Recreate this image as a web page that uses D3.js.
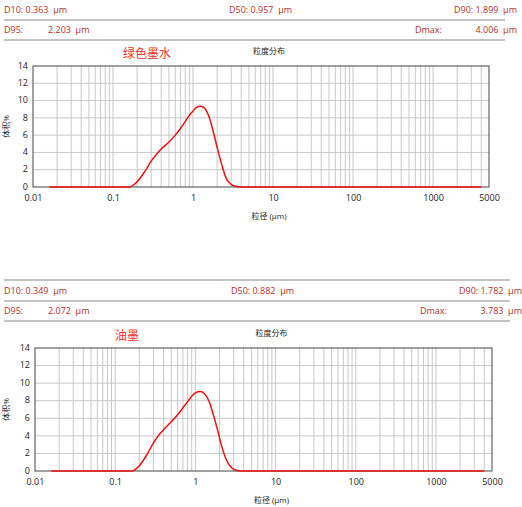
<!DOCTYPE html><html><head><meta charset="utf-8"><script src="https://cdn.jsdelivr.net/npm/d3@7"></script>
<style>body{margin:0;background:#fff}text{font-family:"Open Sans","Noto Sans CJK SC",sans-serif;white-space:pre}</style></head><body>
<svg id="c" width="522" height="507"></svg>
<script>
const xTicks=[0.01,0.1,1,10,100,1000,5000];
const yTicks=[0,2,4,6,8,10,12,14];
const sizesA=[0.016,0.16,0.2,0.25,0.3,0.35,0.4,0.5,0.6,0.7,0.8,0.9,1.0,1.1,1.25,1.4,1.6,1.8,2.0,2.3,2.6,3.0,3.5,4.0,4000];
const volA=[0,0,0.6,1.8,3.0,3.8,4.4,5.2,6.0,6.8,7.6,8.3,8.8,9.2,9.35,9.1,8.0,6.3,4.6,2.5,1.0,0.3,0.05,0,0];
const sizesB=[0.016,0.16,0.2,0.25,0.3,0.35,0.4,0.5,0.6,0.7,0.8,0.9,1.0,1.15,1.3,1.5,1.7,1.9,2.1,2.4,2.8,3.2,3.7,4000];
const volB=[0,0,0.6,1.9,3.2,4.1,4.7,5.6,6.4,7.2,7.9,8.5,8.9,9.05,8.8,7.8,6.2,4.6,3.0,1.4,0.4,0.08,0,0];
const statsA=[["D10: 0.363  μm","D50: 0.957  μm","D90: 1.899  μm"],["D95:","2.203  μm","Dmax:","4.006  μm"]];
const statsB=[["D10: 0.349  μm","D50: 0.882  μm","D90: 1.782  μm"],["D95:","2.072  μm","Dmax:","3.783  μm"]];
const svg=d3.select("#c");
const dark="#b0302a";
function panel(o){
  const g=svg.append("g");
  const r1=o.hy, r2=o.hy+20;
  if(o.topLine) g.append("line").attr("x1",4).attr("x2",o.hr).attr("y1",o.hy-14).attr("y2",o.hy-14).attr("stroke","#888");
  const t=(x,yy,s,a)=>g.append("text").attr("x",x).attr("y",yy).attr("text-anchor",a||"start").attr("xml:space","preserve").text(s).attr("fill",dark).attr("font-size",9);
  t(4,r1,o.stats[0][0]); t(o.hmid,r1,o.stats[0][1]); t(o.hr+12,r1,o.stats[0][2],"end");
  g.append("line").attr("x1",4).attr("x2",o.hr).attr("y1",r1+7).attr("y2",r1+7).attr("stroke","#888");
  t(4,r2,o.stats[1][0]); t(48,r2,o.stats[1][1]); t(o.hr-90,r2,o.stats[1][2]); t(o.hr+12,r2,o.stats[1][3],"end");
  g.append("line").attr("x1",4).attr("x2",o.hr).attr("y1",r2+7).attr("y2",r2+7).attr("stroke","#888");
  const x=d3.scaleLog().domain([0.01,5000]).range([o.x0,o.x1]);
  const y=d3.scaleLinear().domain([0,14]).range([o.y0,o.y1]);
  const minors=[];
  for(let e=-2;e<=3;e++)for(let m=1;m<=9;m++){const v=m*Math.pow(10,e);if(v>0.01&&v<5000)minors.push(v);}
  g.selectAll(null).data(minors).join("line").attr("x1",d=>x(d)).attr("x2",d=>x(d)).attr("y1",o.y0).attr("y2",o.y1).attr("stroke","#c8c8c8").attr("stroke-width",1);
  g.selectAll(null).data(yTicks.slice(1,-1)).join("line").attr("x1",o.x0).attr("x2",o.x1).attr("y1",d=>y(d)).attr("y2",d=>y(d)).attr("stroke","#c8c8c8");
  g.append("rect").attr("x",o.x0).attr("y",o.y1).attr("width",o.x1-o.x0).attr("height",o.y0-o.y1).attr("fill","none").attr("stroke","#444");
  const xa=g.append("g").attr("transform",`translate(0,${o.y0})`).call(d3.axisBottom(x).tickValues(xTicks).tickFormat(d=>String(d)).tickSize(0).tickPadding(8));
  const ya=g.append("g").attr("transform",`translate(${o.x0},0)`).call(d3.axisLeft(y).tickValues(yTicks).tickSize(0).tickPadding(5));
  [xa,ya].forEach(a=>{a.select(".domain").remove();a.selectAll("text").attr("font-size",9).attr("fill","#222").attr("font-family","'Open Sans',sans-serif");});
  ya.selectAll("text").attr("dy","0.25em");
  const line=d3.line().x(d=>x(d[0])).y(d=>y(d[1])).curve(d3.curveMonotoneX);
  g.append("path").datum(o.sizes.map((s,i)=>[s,o.vol[i]])).attr("d",line).attr("fill","none").attr("stroke","#ee1111").attr("stroke-width",1.5);
  g.append("text").attr("x",(o.x0+o.x1)/2+8).attr("y",o.y1-12).attr("text-anchor","middle").attr("font-size",8).attr("fill","#222").text("粒度分布");
  g.append("text").attr("x",o.lx).attr("y",o.y1-8).attr("font-size",12).attr("fill","#f03030").text(o.label);
  g.append("text").attr("x",(o.x0+o.x1)/2+8).attr("y",o.y0+32).attr("text-anchor","middle").attr("font-size",8).attr("fill","#222").text("粒径 (μm)");
  g.append("text").attr("transform",`translate(9,${(o.y0+o.y1)/2}) rotate(-90)`).attr("text-anchor","middle").attr("font-size",8).attr("fill","#222").text("体积%");
}
panel({stats:statsA,sizes:sizesA,vol:volA,hy:13,hr:505,hmid:229,x0:33,x1:489,y0:187,y1:66,label:"绿色墨水",lx:123,topLine:false});
panel({stats:statsB,sizes:sizesB,vol:volB,hy:294,hr:510,hmid:231,x0:35,x1:492,y0:471,y1:348,label:"油墨",lx:115,topLine:true});
</script></body></html>
